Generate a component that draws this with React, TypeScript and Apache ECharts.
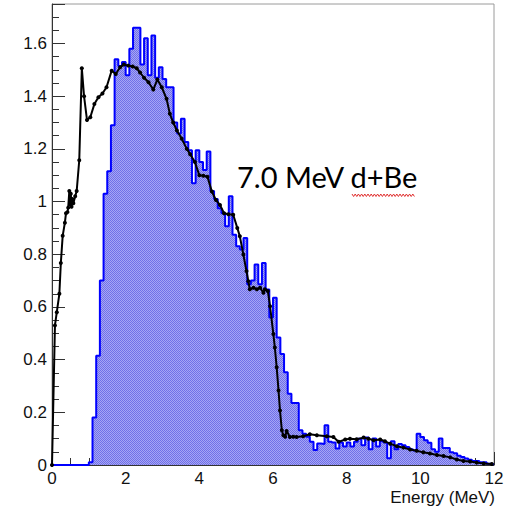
import React, { useEffect, useRef } from "react";
import * as echarts from "echarts";

// Histogram: bin width 0.1 MeV, 120 bins from 0 to 12 MeV
const BIN_WIDTH = 0.1;
const histValues: number[] = [
  0, 0, 0, 0, 0, 0, 0, 0, 0, 0,
  0.01, 0.18, 0.415, 0.7, 1.03, 1.115, 1.29, 1.54, 1.515, 1.53,
  1.48, 1.58, 1.66, 1.66, 1.52, 1.62, 1.48, 1.63, 1.47, 1.51,
  1.465, 1.434, 1.434, 1.3, 1.258, 1.314, 1.226, 1.195, 1.07, 1.195,
  1.15, 1.12, 1.19, 1.04, 1.01, 0.975, 0.956, 0.906, 1.02, 0.874,
  0.83, 0.818, 0.862, 0.686, 0.7, 0.761, 0.686, 0.767, 0.666, 0.56,
  0.635, 0.484, 0.421, 0.352, 0.27, 0.235, 0.235, 0.132, 0.119, 0.107,
  0.088, 0.057, 0.082, 0.08, 0.151, 0.088, 0.085, 0.063, 0.085, 0.07,
  0.085, 0.07, 0.088, 0.1, 0.075, 0.104, 0.06, 0.101, 0.07, 0.09,
  0.085, 0.026, 0.09, 0.06, 0.08, 0.075, 0.068, 0.06, 0.055, 0.119,
  0.106, 0.094, 0.084, 0.06, 0.05, 0.101, 0.065, 0.065, 0.048, 0.045,
  0.035, 0.03, 0.025, 0.02, 0.015, 0.015, 0.01, 0.01, 0.005, 0.003,
];

// Reference spectrum (black line with markers)
const refEnergy: number[] = [
  0, 0.08, 0.13, 0.2, 0.24, 0.29, 0.35, 0.38, 0.42, 0.44, 0.47, 0.49, 0.51, 0.53, 0.55, 0.58, 0.63, 0.67, 0.74,
  0.81, 0.87, 0.95, 1.04, 1.15, 1.26, 1.37, 1.48, 1.62, 1.73, 1.85, 1.95, 2.07, 2.19, 2.3, 2.39, 2.5, 2.62, 2.75,
  2.86, 2.98, 3.11, 3.2, 3.29, 3.39, 3.52, 3.66, 3.75, 3.88, 4.0, 4.11, 4.22, 4.34, 4.45, 4.56, 4.67, 4.79, 4.92,
  5.03, 5.1, 5.195, 5.28, 5.33, 5.37, 5.47, 5.56, 5.65, 5.74, 5.78, 5.86, 5.92, 6.01, 6.05, 6.1, 6.15, 6.19, 6.24,
  6.28, 6.33, 6.37, 6.46, 6.55, 6.64, 6.82, 7.0, 7.19, 7.46, 7.64, 7.78, 7.96, 8.09, 8.27, 8.46, 8.59, 8.73, 8.91,
  9.04, 9.18, 9.36, 9.54, 9.72, 9.9, 10.08, 10.26, 10.45, 10.63, 10.81, 10.99, 11.17, 11.35, 11.53, 11.72, 11.94,
];
const refValue: number[] = [
  0, 0.53, 0.58, 0.65, 0.767, 0.87, 0.92, 0.956, 0.96, 0.977, 1.04, 0.99, 1.03, 0.98, 1.01, 0.994, 1.02, 1.04, 1.157,
  1.506, 1.4, 1.31, 1.32, 1.37, 1.396, 1.41, 1.434, 1.497, 1.484, 1.51, 1.52, 1.516, 1.513, 1.506, 1.49, 1.47, 1.453, 1.425,
  1.463, 1.434, 1.39, 1.333, 1.3, 1.27, 1.239, 1.2, 1.18, 1.15, 1.1, 1.098, 1.094, 1.038, 1.006, 0.987, 0.956, 0.952, 0.95,
  0.9, 0.868, 0.799, 0.736, 0.698, 0.667, 0.673, 0.667, 0.673, 0.654, 0.667, 0.66, 0.603, 0.497, 0.446, 0.371, 0.283, 0.207, 0.132,
  0.113, 0.107, 0.129, 0.106, 0.107, 0.106, 0.109, 0.117, 0.113, 0.109, 0.106, 0.088, 0.097, 0.1, 0.098, 0.104, 0.1, 0.094, 0.097,
  0.09, 0.081, 0.071, 0.066, 0.059, 0.054, 0.048, 0.044, 0.038, 0.034, 0.029, 0.021, 0.015, 0.013, 0.009, 0.006, 0.004,
];

const X_MIN = 0;
const X_MAX = 12;
const X_STEP = 2;
const Y_MIN = 0;
const Y_MAX = 1.75;
const Y_STEP = 0.2;
const Y_MINOR = 0.05;

const X_TITLE = "Energy (MeV)";
const ANNOTATION = "7.0 MeV d+Be";

export default function App() {
  const ref = useRef<HTMLDivElement>(null);

  useEffect(() => {
    if (!ref.current) return;
    const chart = echarts.init(ref.current, null, { renderer: "svg" });

    const histData: number[][] = histValues.map((v, i) => [i * BIN_WIDTH, v]);
    histData.push([X_MAX, histValues[histValues.length - 1]]);
    const refData = refEnergy.map((e, i) => [e, refValue[i]]);

    // dotted fill pattern similar to ROOT's fill style
    const pc = document.createElement("canvas");
    pc.width = 2;
    pc.height = 2;
    const ctx = pc.getContext("2d")!;
    ctx.fillStyle = "#a6a6f5";
    ctx.fillRect(0, 0, 2, 2);
    ctx.fillStyle = "#7070e8";
    ctx.fillRect(0, 0, 1, 1);
    ctx.fillRect(1, 1, 1, 1);

    const wave: number[][] = [];
    for (let x = 352, k = 0; x <= 416; x += 1.6, k++) {
      wave.push([x, k % 2 === 0 ? 194 : 196.5]);
    }

    const axisColor = "#333";
    const labelFont = { fontFamily: "Liberation Sans, Arial, sans-serif", fontSize: 17, color: "#111" };

    chart.setOption({
      animation: false,
      backgroundColor: "#ffffff",
      grid: {
        left: 52,
        right: 19,
        top: 4,
        bottom: 44,
        show: true,
        borderColor: "#9a9a9a",
        borderWidth: 1,
        backgroundColor: "transparent",
      },
      xAxis: [
        {
          type: "value",
          min: X_MIN,
          max: X_MAX,
          interval: X_STEP,
          position: "bottom",
          axisLine: { show: true, onZero: false, lineStyle: { color: axisColor, width: 1 } },
          axisTick: { show: true, inside: true, length: 13, lineStyle: { color: axisColor } },
          minorTick: { show: true, splitNumber: 4, length: 7, lineStyle: { color: axisColor } },
          axisLabel: { ...labelFont, margin: 5 },
          splitLine: { show: false },
          minorSplitLine: { show: false },
        },
      ],
      yAxis: [
        {
          type: "value",
          min: Y_MIN,
          max: Y_MAX,
          interval: Y_STEP,
          position: "left",
          axisLine: { show: true, onZero: false, lineStyle: { color: axisColor, width: 1 } },
          axisTick: { show: true, inside: true, length: 13, lineStyle: { color: axisColor } },
          axisLabel: {
            ...labelFont,
            margin: 5,
            formatter: (v: number) => {
              const r = v / Y_STEP;
              if (Math.abs(r - Math.round(r)) > 1e-6) return "";
              return String(parseFloat(v.toFixed(1)));
            },
          },
          splitLine: { show: false },
        },
        {
          type: "value",
          min: Y_MIN,
          max: Y_MAX,
          interval: Y_MINOR,
          position: "left",
          axisLine: { show: false },
          axisTick: { show: true, inside: true, length: 7, lineStyle: { color: axisColor } },
          axisLabel: { show: false },
          splitLine: { show: false },
        },
      ],
      series: [
        {
          type: "line",
          name: "histogram",
          data: histData,
          step: "end",
          symbol: "none",
          lineStyle: { color: "#0000ff", width: 2 },
          areaStyle: {
            color: { image: pc, repeat: "repeat" },
            opacity: 1,
            origin: "start",
          },
          z: 2,
        },
        {
          type: "line",
          name: "reference",
          data: refData,
          symbol: "circle",
          symbolSize: 4,
          itemStyle: { color: "#000" },
          lineStyle: { color: "#000", width: 2 },
          z: 3,
        },
      ],
      graphic: [
        {
          type: "text",
          right: 18,
          top: 489,
          style: {
            text: X_TITLE,
            fontFamily: "Liberation Sans, Arial, sans-serif",
            fontSize: 17,
            fill: "#111",
          },
        },
        {
          type: "text",
          left: 237,
          top: 162,
          style: {
            text: ANNOTATION,
            fontFamily: "Lato, sans-serif",
            fontSize: 29,
            fill: "#000",
          },
        },
        {
          type: "polyline",
          shape: { points: wave },
          style: { stroke: "#e03030", lineWidth: 1, fill: "none" },
        },
      ],
    });

    return () => chart.dispose();
  }, []);

  return (
    <div
      ref={ref}
      style={{ position: "fixed", left: 0, top: 0, width: 513, height: 509, background: "#fff" }}
    />
  );
}
